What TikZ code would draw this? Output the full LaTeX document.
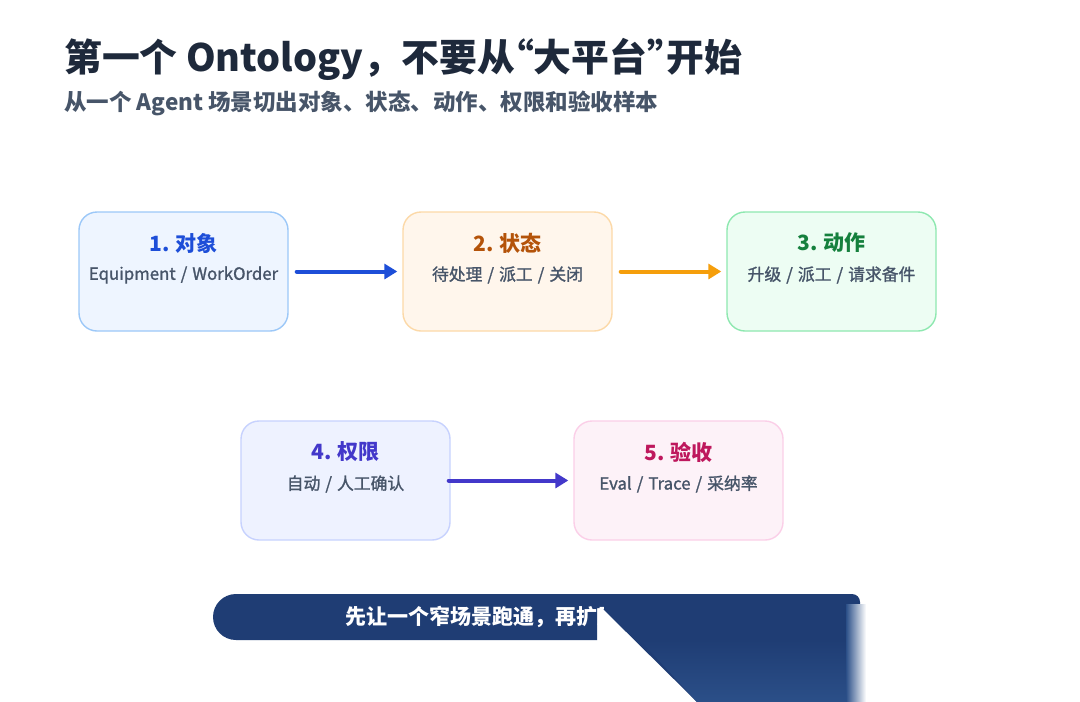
\documentclass[tikz,border=0pt]{standalone}
\usepackage{fontspec}
\setmainfont{Noto Sans CJK SC}
\newfontfamily\semibold{Noto Sans CJK SC}[FakeBold=1.3]
\usepackage{xcolor}
\usepackage{tikz}
\usetikzlibrary{arrows.meta}
\usetikzlibrary{shapes}

\definecolor{inkdark}{HTML}{1E293B}
\definecolor{inkgray}{HTML}{475569}
\definecolor{bluefill}{HTML}{EEF5FF}
\definecolor{blueline}{HTML}{9CC8F8}
\definecolor{bluetext}{HTML}{1D4ED8}
\definecolor{orangefill}{HTML}{FFF6EC}
\definecolor{orangeline}{HTML}{FCD9A8}
\definecolor{orangetext}{HTML}{B45309}
\definecolor{orangearrow}{HTML}{F59E0B}
\definecolor{greenfill}{HTML}{EDFDF3}
\definecolor{greenline}{HTML}{8EE8B0}
\definecolor{greentext}{HTML}{15803D}
\definecolor{indigofill}{HTML}{EEF2FF}
\definecolor{indigoline}{HTML}{C7D2FE}
\definecolor{indigotext}{HTML}{4338CA}
\definecolor{pinkfill}{HTML}{FDF2F8}
\definecolor{pinkline}{HTML}{FBCFE8}
\definecolor{pinktext}{HTML}{BE185D}
\definecolor{bannerblue}{HTML}{1F3D74}
\definecolor{bannerlow}{HTML}{2B4F88}

\newcommand{\openq}{\makebox[0.5em][r]{“}}
\newcommand{\closeq}{\makebox[0.5em][l]{”}}
\newcommand{\sep}{\hspace{0.3em}/\hspace{0.3em}}

\tikzset{
  card/.style={rectangle, rounded corners=18pt, minimum width=209pt, minimum height=119pt, line width=1.4pt, inner sep=0pt},
  cardtitle/.style={font=\bfseries\fontsize{21}{24}\selectfont, inner sep=0pt},
  cardtext/.style={font=\semibold\fontsize{16.8}{19}\selectfont, text=inkgray, inner sep=0pt},
  flow/.style={line width=4pt, line cap=round, -{Triangle[length=13pt,width=15pt]}},
}

\begin{document}
\begin{tikzpicture}[x=1pt, y=-1pt]
      \useasboundingbox[fill=white] (0,0) rectangle (1080,702);
      % title
      \node[anchor=base west, inner sep=0pt, text=inkdark, font=\bfseries\fontsize{37.8}{42}\selectfont] (title) at (64,71) {第一个 Ontology，不要从\openq 大平台\closeq 开始};
      \node[anchor=base west, inner sep=0pt, text=inkgray, font=\bfseries\fontsize{22.5}{26}\selectfont] (subtitle) at (64,110) {从一个 Agent 场景切出对象、状态、动作、权限和验收样本};
      % cards
      \node[card, fill=bluefill, draw=blueline] (obj) at (183.5, 271.5) {};
      \node[card, fill=orangefill, draw=orangeline] (state) at (507.5, 271.5) {};
      \node[card, fill=greenfill, draw=greenline] (act) at (831.5, 271.5) {};
      \node[card, fill=indigofill, draw=indigoline] (perm) at (345.5, 480.5) {};
      \node[card, fill=pinkfill, draw=pinkline] (eval) at (678.5, 480.5) {};
      \node[cardtitle, text=bluetext] (objt) at (183.5, 243) {1. 对象};
      \node[cardtext] (objs) at (183.5, 275) {Equipment\sep WorkOrder};
      \node[cardtitle, text=orangetext] (statet) at (507.5, 243) {2. 状态};
      \node[cardtext] (states) at (507.5, 275) {待处理\sep 派工\sep 关闭};
      \node[cardtitle, text=greentext] (actt) at (831.5, 243) {3. 动作};
      \node[cardtext] (acts) at (831.5, 275) {升级\sep 派工\sep 请求备件};
      \node[cardtitle, text=indigotext] (permt) at (345.5, 452) {4. 权限};
      \node[cardtext] (perms) at (345.5, 484) {自动\sep 人工确认};
      \node[cardtitle, text=pinktext] (evalt) at (678.5, 452) {5. 验收};
      \node[cardtext] (evals) at (678.5, 484) {Eval\sep Trace\sep 采纳率};
      % arrows
      \draw[flow, bluetext, shorten <=8pt, shorten >=5pt] (obj) -- (state);
      \draw[flow, orangearrow, shorten <=8pt, shorten >=5pt] (state) -- (act);
      \draw[flow, indigotext, shorten <=-2pt, shorten >=5pt] (perm) -- (eval);
      % banner
      \fill[bannerblue] (236,594) -- (852,594) arc[start angle=270, end angle=360, radius=8] -- (860,702) -- (697,702) -- (602,608) -- (597,608) -- (597,640) -- (236,640) arc[start angle=90, end angle=270, radius=23] -- cycle;
      \shade[top color=bannerblue, bottom color=bannerlow] (640,640) -- (859,640) -- (860,702) -- (697,702) -- cycle;
      \shade[left color=bannerlow, right color=white] (846,604) rectangle (866,702);
      \begin{scope}
        \clip (213,594) rectangle (603,640);
        \node[anchor=west, inner sep=0pt, text=white, font=\bfseries\fontsize{21}{24}\selectfont] (motto) at (345,617) {先让一个窄场景跑通，再扩展};
      \end{scope}
\end{tikzpicture}
\end{document}
